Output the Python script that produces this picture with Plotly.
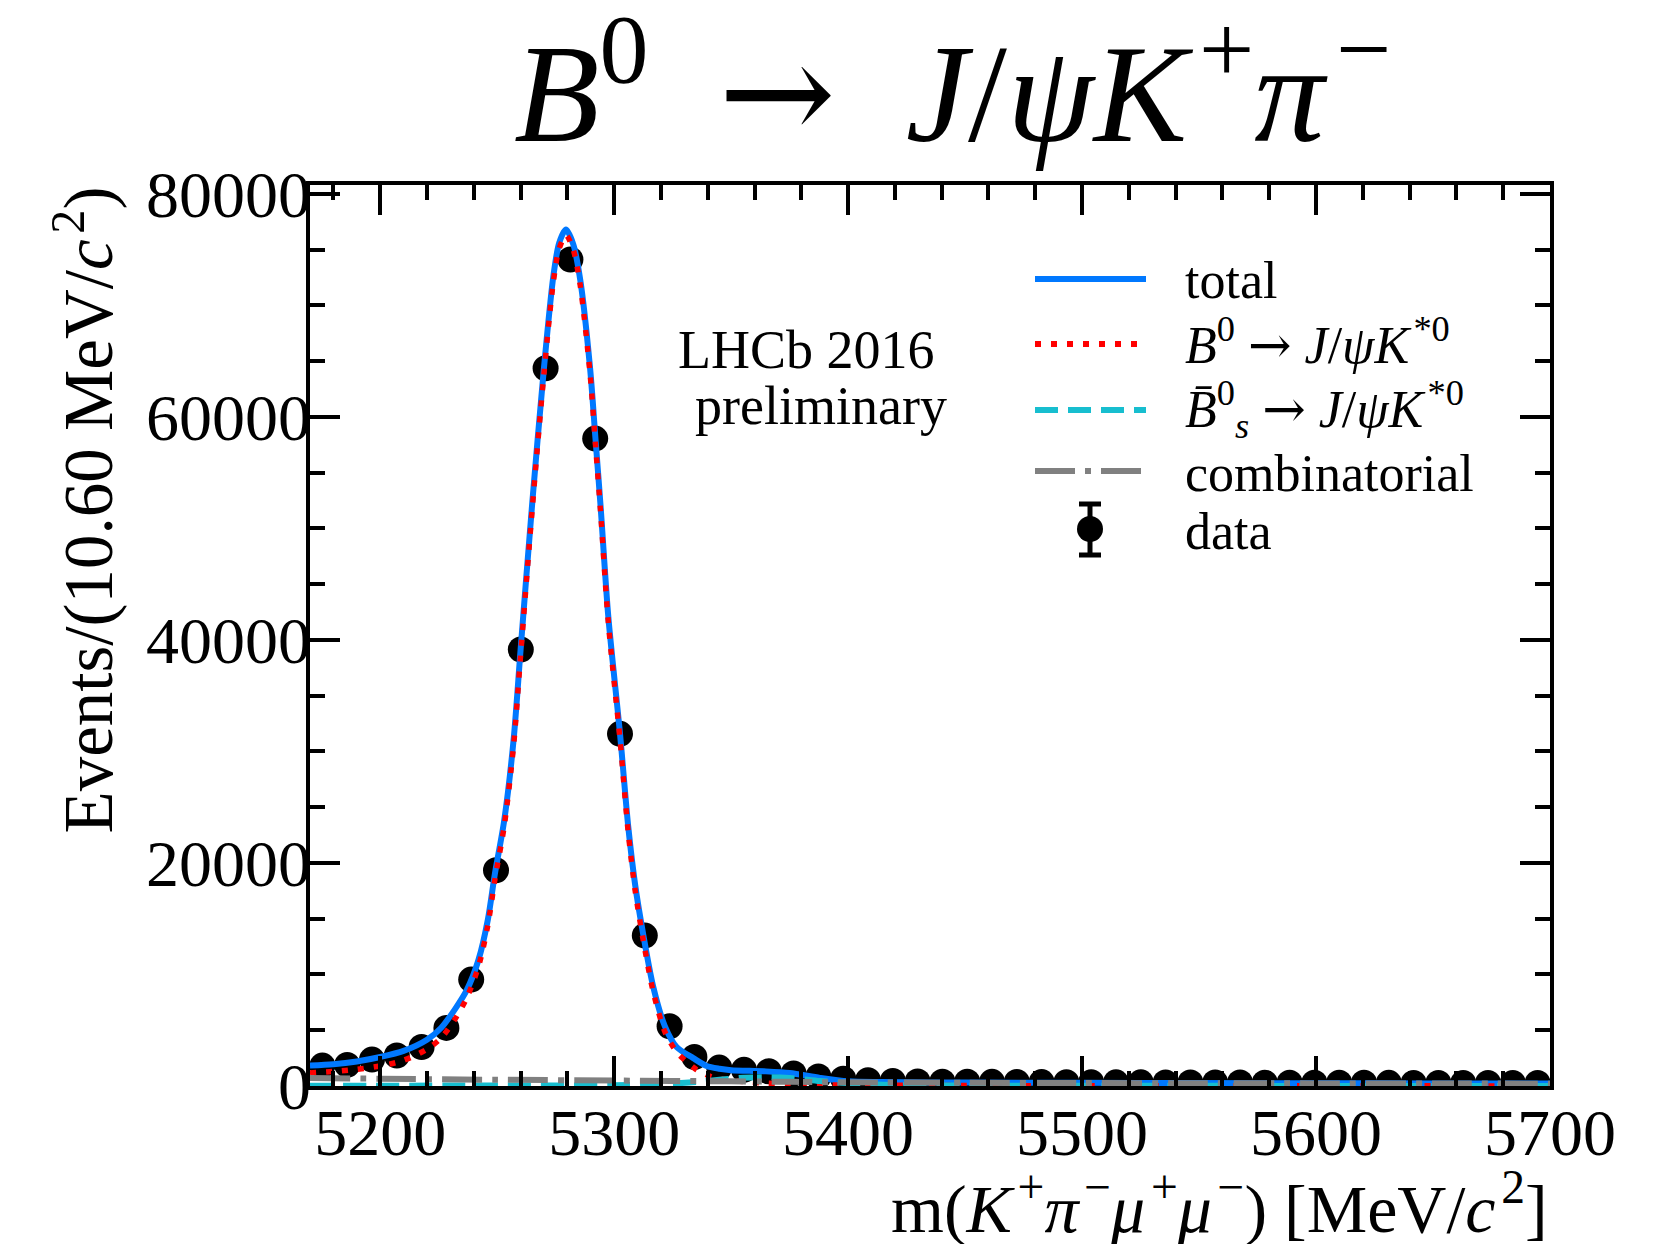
import plotly.graph_objects as go

# ---------------- data ----------------
bin_centers = [5175.3, 5185.9, 5196.5, 5207.1, 5217.7, 5228.3, 5238.9, 5249.5, 5260.1, 5270.7,
               5281.3, 5291.9, 5302.5, 5313.1, 5323.7, 5334.3, 5344.9, 5355.5, 5366.1, 5376.7,
               5387.3, 5397.9, 5408.5, 5419.1, 5429.7, 5440.3, 5450.9, 5461.5, 5472.1, 5482.7,
               5493.3, 5503.9, 5514.5, 5525.1, 5535.7, 5546.3, 5556.9, 5567.5, 5578.1, 5588.7,
               5599.3, 5609.9, 5620.5, 5631.1, 5641.7, 5652.3, 5662.9, 5673.5, 5684.1, 5694.7]
data_counts = [1830, 1890, 2370, 2730, 3500, 5210, 9540, 19350, 39140, 64370,
               74120, 58060, 31580, 13490, 5360, 2600, 1650, 1450, 1320, 1120,
               850, 650, 520, 450, 410, 390, 380, 370, 360, 350,
               345, 340, 330, 330, 320, 320, 310, 310, 300, 300,
               295, 290, 290, 285, 280, 280, 275, 270, 270, 265]

total_x = [5170, 5180, 5190, 5200, 5210, 5220, 5226, 5232, 5237, 5242, 5246, 5249, 5253, 5257,
           5260, 5265, 5270, 5274, 5276.5, 5279.4, 5282.5, 5285.5, 5289.7, 5292, 5294.2, 5297.5,
           5302.5, 5306, 5309, 5312.5, 5316.7, 5321.7, 5326.7, 5333.8, 5339.5, 5345, 5350, 5364,
           5375, 5388, 5400, 5414, 5450, 5500, 5550, 5600, 5650, 5700]
total_y = [1830, 1950, 2200, 2600, 3150, 4150, 5200, 6900, 8600, 11300, 14900, 19000, 23800, 31000,
           39100, 52300, 64400, 72600, 75600, 76800, 75500, 72300, 64400, 58100, 52000, 42100,
           31600, 23300, 18000, 13500, 8900, 5350, 3500, 2500, 1800, 1550, 1420, 1320,
           1170, 730, 420, 350, 310, 285, 265, 250, 235, 222]

sig_x = [5170, 5180, 5190, 5200, 5210, 5220, 5226, 5232, 5237, 5242, 5246, 5249, 5253, 5257,
         5260, 5265, 5270, 5274, 5276.5, 5279.4, 5282.5, 5285.5, 5289.7, 5292, 5294.2, 5297.5,
         5302.5, 5306, 5309, 5312.5, 5316.7, 5321.7, 5326.7, 5330.3, 5335.3, 5341.7, 5348, 5355,
         5365, 5375, 5390, 5410, 5450, 5500, 5600, 5700]
sig_y = [1170, 1300, 1500, 1800, 2300, 3300, 4300, 6000, 7900, 10700, 14400, 18500, 23300, 30500,
         38600, 51800, 63900, 72100, 75100, 76300, 75000, 71800, 63900, 57600, 51500, 41600,
         31100, 22800, 17500, 13000, 8450, 4850, 3050, 2300, 1450, 820, 550, 400,
         260, 180, 110, 70, 40, 25, 15, 10]

bs_x = [5170, 5250, 5300, 5320, 5335, 5346, 5355, 5366, 5375, 5388, 5400, 5415, 5440, 5500, 5600, 5700]
bs_y = [30, 40, 70, 160, 360, 580, 740, 800, 720, 450, 260, 120, 45, 20, 10, 5]

comb_x = [5170, 5200, 5250, 5300, 5350, 5400, 5450, 5500, 5550, 5600, 5650, 5700]
comb_y = [720, 650, 560, 490, 420, 330, 290, 265, 250, 235, 220, 210]

x_ticks = [5200, 5300, 5400, 5500, 5600, 5700]
y_ticks = [0, 20000, 40000, 60000, 80000]

HS = "\u200a"  # hair space to keep superscripts clear of italic overhangs
ES = "\u2002"  # en space (wider gap around the title arrow)
ARROW = '<span style="font-family:DejaVu Serif">\u2192</span>'
legend_labels = ["total",
                 "<i>B</i><sup>0</sup> " + ARROW + " <i>J</i>/<i>\u03c8K</i>" + HS + "<sup>*0</sup>",
                 "<i>B\u0304</i><sup>0</sup><sub><i>s</i></sub> " + ARROW + " <i>J</i>/<i>\u03c8K</i>" + HS + "<sup>*0</sup>",
                 "combinatorial",
                 "data"]

# ---------------- styling ----------------
FONT = "Liberation Serif"
BLUE = "#0078ff"
RED = "#ff0000"
CYAN = "#17becf"
GREY = "#808080"
W, H = 1661, 1244
L, R, T, B = 310, 111, 185, 158
PW, PH = W - L - R, H - T - B


def px(x):
    return (x - L) / PW


def py(y):
    return (H - B - y) / PH


fig = go.Figure()
fig.add_trace(go.Scatter(x=bin_centers, y=data_counts, mode="markers",
                         marker=dict(color="black", size=26, line=dict(width=0)),
                         showlegend=False))
fig.add_trace(go.Scatter(x=total_x, y=total_y, mode="lines",
                         line=dict(color=BLUE, width=6, shape="spline", smoothing=0.8),
                         showlegend=False))
fig.add_trace(go.Scatter(x=sig_x, y=sig_y, mode="lines",
                         line=dict(color=RED, width=5.5, dash="6px,10px", shape="spline", smoothing=0.8),
                         showlegend=False))
fig.add_trace(go.Scatter(x=bs_x, y=bs_y, mode="lines",
                         line=dict(color=CYAN, width=6, dash="23px,10px", shape="spline", smoothing=0.8),
                         showlegend=False))
fig.add_trace(go.Scatter(x=comb_x, y=comb_y, mode="lines",
                         line=dict(color=GREY, width=6, dash="40px,10px,6px,10px", shape="spline", smoothing=0.8),
                         showlegend=False))

axis_common = dict(
    showline=True, linewidth=3.5, linecolor="black", mirror="allticks",
    ticks="inside", ticklen=30, tickwidth=3.5, tickcolor="black",
    showgrid=False, zeroline=False,
    tickfont=dict(family=FONT, size=66, color="black"),
)

fig.update_xaxes(range=[5170, 5700], tickmode="array", tickvals=x_ticks,
                 ticktext=[str(v) for v in x_ticks], ticklabelstandoff=-14,
                 minor=dict(tickmode="linear", tick0=5180, dtick=20, ticks="inside",
                            ticklen=15, tickwidth=3.5, tickcolor="black"),
                 **axis_common)
fig.update_yaxes(range=[0, 80800], tickmode="array", tickvals=y_ticks,
                 ticktext=[str(v) for v in y_ticks], ticklabelstandoff=-18,
                 minor=dict(tickmode="linear", tick0=0, dtick=5000, ticks="inside",
                            ticklen=15, tickwidth=3.5, tickcolor="black"),
                 **axis_common)

ann = []
# title
ann.append(dict(text="<i>B</i><sup>0</sup>" + ES + ARROW + ES + "<i>J</i>/<i>\u03c8K</i>" + HS
                + "<sup>+</sup><i>\u03c0</i>" + HS + "<sup>\u2212</sup>",
                xref="paper", yref="paper", x=px(952), y=py(84), xanchor="center", yanchor="middle",
                showarrow=False, font=dict(family=FONT, size=140, color="black")))
# x label
ann.append(dict(text="m(<i>K</i>" + HS + "<sup>+</sup><i>\u03c0</i>" + HS + "<sup>\u2212</sup><i>\u03bc</i>" + HS
                + "<sup>+</sup><i>\u03bc</i>" + HS + "<sup>\u2212</sup>) [MeV/<i>c</i>" + HS + "<sup>2</sup>]",
                xref="paper", yref="paper", x=1.0, y=py(1204), xanchor="right", yanchor="middle",
                showarrow=False, font=dict(family=FONT, size=68, color="black")))
# y label
ann.append(dict(text="Events/(10.60 MeV/<i>c</i>" + HS + "<sup>2</sup>)", textangle=-90,
                xref="paper", yref="paper", x=px(84), y=1.0, xanchor="center", yanchor="top",
                showarrow=False, font=dict(family=FONT, size=69, color="black")))
# LHCb text
ann.append(dict(text="LHCb 2016", xref="paper", yref="paper", x=px(806), y=py(350),
                xanchor="center", yanchor="middle", showarrow=False,
                font=dict(family=FONT, size=54, color="black")))
ann.append(dict(text="preliminary", xref="paper", yref="paper", x=px(821), y=py(406),
                xanchor="center", yanchor="middle", showarrow=False,
                font=dict(family=FONT, size=54, color="black")))

# legend (drawn by hand)
row_y = [280, 342, 409, 473, 531]
for lab, yy in zip(legend_labels, row_y):
    ann.append(dict(text=lab, xref="paper", yref="paper", x=px(1183), y=py(yy),
                    xanchor="left", yanchor="middle", showarrow=False,
                    font=dict(family=FONT, size=52, color="black")))

shapes = []
line_rows = [(BLUE, "solid", 279), (RED, "6px,10px", 344), (CYAN, "23px,10px", 410),
             (GREY, "40px,10px,6px,10px", 471)]
for col, dsh, yy in line_rows:
    shapes.append(dict(type="line", xref="paper", yref="paper", x0=px(1035), x1=px(1146),
                       y0=py(yy), y1=py(yy), line=dict(color=col, width=6, dash=dsh)))
# data symbol: error bar + dot
cx, cy = 1090, 529
shapes.append(dict(type="line", xref="paper", yref="paper", x0=px(cx), x1=px(cx),
                   y0=py(504), y1=py(555), line=dict(color="black", width=5)))
for yy in (504, 555):
    shapes.append(dict(type="line", xref="paper", yref="paper", x0=px(cx - 11), x1=px(cx + 11),
                       y0=py(yy), y1=py(yy), line=dict(color="black", width=5)))
shapes.append(dict(type="circle", xref="paper", yref="paper", x0=px(cx - 13), x1=px(cx + 13),
                   y0=py(cy + 13), y1=py(cy - 13), fillcolor="black", line=dict(width=0)))

fig.update_layout(width=W, height=H, margin=dict(l=L, r=R, t=T, b=B, autoexpand=False),
                  paper_bgcolor="white", plot_bgcolor="white", showlegend=False,
                  annotations=ann, shapes=shapes,
                  font=dict(family=FONT, color="black"))

fig.write_html("out.html")
